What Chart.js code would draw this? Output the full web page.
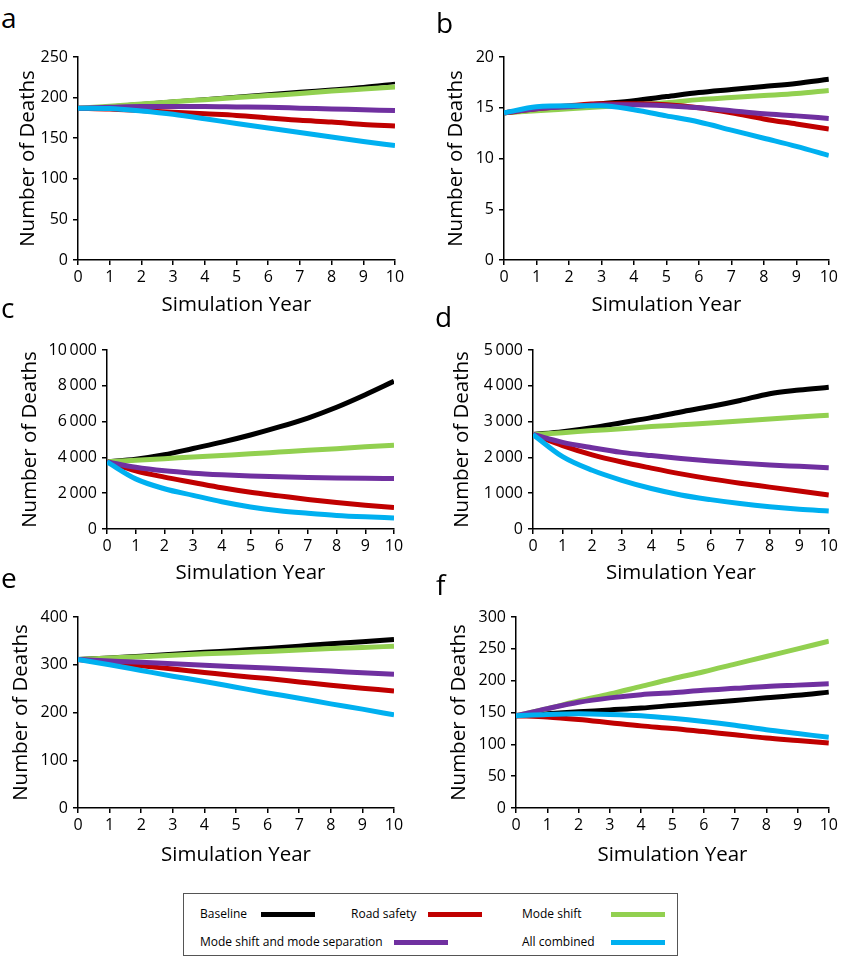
<!DOCTYPE html>
<html><head><meta charset="utf-8">
<script src="https://cdn.jsdelivr.net/npm/chart.js@4/dist/chart.umd.min.js"></script>
<style>
body{margin:0;background:#fff;width:841px;height:958px;position:relative;overflow:hidden;font-family:"Open Sans",sans-serif;color:#000;}
.pan{position:absolute;}
.lbl{position:absolute;font-size:28px;line-height:28px;}
#legend{position:absolute;left:183px;top:893px;width:495px;height:63px;border:1px solid #555;box-sizing:border-box;font-size:12px;}
.li{position:absolute;white-space:nowrap;line-height:16px;}
.sw{position:absolute;height:5px;}
</style></head><body>
<script>
// ---- data ----
const years = [0,1,2,3,4,5,6,7,8,9,10];
const seriesNames = ['Baseline','Road safety','Mode shift','Mode shift and mode separation','All combined'];
const seriesColors = ['#000000','#c00000','#92d050','#7030a0','#00b0f0'];
const panelLetters = ['a','b','c','d','e','f'];
const xTitle = 'Simulation Year';
const yTitle = 'Number of Deaths';

// panel a
const aBaseline   = [187,190,193,196,199,202,205,208,211,214,218];
const aRoadSafety = [187,186,184,182,180,178,175,172,170,167,165];
const aModeShift  = [187,189.5,192,195,197.5,200,202.5,205,208,210.5,213];
const aModeSep    = [187,188,189,189,189,188.5,188,187,186,185,184];
const aAll        = [187,186.5,183.5,179.5,174,168,162.5,157,151.5,146,141];
// panel b
const bBaseline   = [14.5,14.8,15.1,15.4,15.7,16.1,16.5,16.8,17.1,17.4,17.8];
const bRoadSafety = [14.5,14.9,15.2,15.4,15.4,15.3,15.0,14.5,13.9,13.4,12.9];
const bModeShift  = [14.5,14.7,14.9,15.1,15.3,15.5,15.8,16.0,16.2,16.4,16.7];
const bModeSep    = [14.5,14.9,15.1,15.3,15.3,15.2,15.0,14.7,14.4,14.2,13.95];
const bAll        = [14.5,15.1,15.2,15.2,14.8,14.2,13.6,12.8,12.0,11.2,10.3];
// panel c
const cBaseline   = [3750,3900,4150,4500,4850,5250,5700,6200,6800,7500,8250];
const cRoadSafety = [3750,3250,2900,2600,2300,2050,1850,1650,1480,1330,1200];
const cModeShift  = [3750,3840,3930,4020,4110,4200,4300,4400,4490,4590,4680];
const cModeSep    = [3750,3450,3250,3120,3030,2960,2920,2880,2850,2830,2820];
const cAll        = [3750,2800,2250,1880,1520,1230,1020,880,760,680,620];
// panel d
const dBaseline   = [2640,2720,2830,2970,3110,3270,3420,3590,3780,3880,3960];
const dRoadSafety = [2640,2330,2070,1870,1700,1540,1400,1280,1170,1060,950];
const dModeShift  = [2640,2690,2750,2800,2860,2910,2960,3020,3070,3130,3180];
const dModeSep    = [2640,2420,2270,2140,2050,1970,1900,1840,1790,1750,1710];
const dAll        = [2640,2020,1640,1360,1130,950,820,710,620,550,500];
// panel e
const eBaseline   = [311,314,318,322,326,330,334,339,344,348,353];
const eRoadSafety = [311,305,298,291,284,277,271,264,257,251,245];
const eModeShift  = [311,314,317,320,323,325,328,331,334,336,339];
const eModeSep    = [311,308,305,302,299,296,293,290,287,283,280];
const eAll        = [311,300,288,276,265,253,241,230,218,207,195];
// panel f
const fBaseline   = [145,148,151,154,157,161,165,169,173,177,182];
const fRoadSafety = [145,143,139,134,129,125,120,115,110,106,102];
const fModeShift  = [145,156,168,179,191,203,214,226,238,250,262];
const fModeSep    = [145,156,166,173,178,181,185,188,191,193,195];
const fAll        = [145,147,148,147,145,141,136,130,123,117,111];

const yMaxes = [250,20,10000,5000,400,300];
const ySteps = [50,5,2000,1000,100,50];

// ---- layout ----
const FONT = '"Open Sans", sans-serif';
const panels = [
  {series:[aBaseline,aRoadSafety,aModeShift,aModeSep,aAll], L:0,   T:40,  W:420, H:285, area:{left:78, right:395, top:57, bottom:260}, yTitleX:28, xTitleY:305, blackW:2.5},
  {series:[bBaseline,bRoadSafety,bModeShift,bModeSep,bAll], L:420, T:40,  W:421, H:285, area:{left:504,right:829, top:57, bottom:260}, yTitleX:456,xTitleY:305, blackW:5},
  {series:[cBaseline,cRoadSafety,cModeShift,cModeSep,cAll], L:0,   T:330, W:420, H:265, area:{left:107,right:394, top:350,bottom:529}, yTitleX:30, xTitleY:573, blackW:5},
  {series:[dBaseline,dRoadSafety,dModeShift,dModeSep,dAll], L:420, T:330, W:421, H:265, area:{left:533,right:829, top:350,bottom:529}, yTitleX:462,xTitleY:573, blackW:5},
  {series:[eBaseline,eRoadSafety,eModeShift,eModeSep,eAll], L:0,   T:600, W:420, H:275, area:{left:78, right:394, top:617,bottom:808}, yTitleX:21, xTitleY:855, blackW:5},
  {series:[fBaseline,fRoadSafety,fModeShift,fModeSep,fAll], L:420, T:600, W:421, H:275, area:{left:516,right:829, top:617,bottom:808}, yTitleX:459,xTitleY:855, blackW:5}
];
const letterPos = [[1,28],[436,33],[1,318],[435,327],[1,588],[436,595]];
const drawOrder = [5,3,4,2,1]; // higher = further back

function fmt(v){
  const s = String(Math.round(v));
  return s.length > 3 ? s.slice(0,-3) + '\u2009' + s.slice(-3) : s;
}

panels.forEach((p, i) => {
  const TF = 20.5, LH = 24;
  const pl = p.yTitleX - LH/2 - p.L;
  const yW = p.area.left - p.L - pl;
  const pb = p.T + p.H - (p.xTitleY + LH/2);
  const xH = p.T + p.H - pb - p.area.bottom;
  const div = document.createElement('div');
  div.className = 'pan';
  div.style.left = p.L + 'px'; div.style.top = p.T + 'px';
  div.style.width = p.W + 'px'; div.style.height = p.H + 'px';
  const cv = document.createElement('canvas');
  cv.width = p.W; cv.height = p.H;
  cv.style.width = p.W + 'px'; cv.style.height = p.H + 'px';
  div.appendChild(cv);
  document.body.appendChild(div);

  const datasets = p.series.map((vals, k) => ({
    label: seriesNames[k],
    data: years.map((yr, j) => ({x: yr, y: vals[j]})),
    borderColor: seriesColors[k],
    backgroundColor: seriesColors[k],
    borderWidth: k === 0 ? p.blackW : 5,
    pointRadius: 0,
    cubicInterpolationMode: 'monotone',
    fill: false,
    order: drawOrder[k]
  }));

  const axisCommon = {
    grid: {display: true, drawOnChartArea: false, drawTicks: true, tickLength: 5, color: '#000', lineWidth: 1.5},
    border: {display: true, color: '#000', width: 1.5}
  };

  new Chart(cv, {
    type: 'line',
    data: {datasets},
    options: {
      responsive: false,
      animation: false,
      devicePixelRatio: 1,
      layout: {padding: {left: pl, top: p.area.top - p.T, right: p.L + p.W - p.area.right, bottom: pb}},
      plugins: {legend: {display: false}, tooltip: {enabled: false}},
      scales: {
        x: Object.assign({}, axisCommon, {
          type: 'linear', min: 0, max: 10,
          ticks: {stepSize: 1, color: '#000', font: {family: FONT, size: 16}, padding: 3, maxRotation: 0, autoSkip: false},
          title: {display: true, text: xTitle, color: '#000', font: {family: FONT, size: TF}, padding: 0},
          afterFit: s => { s.height = xH; }
        }),
        y: Object.assign({}, axisCommon, {
          type: 'linear', min: 0, max: yMaxes[i],
          ticks: {stepSize: ySteps[i], color: '#000', font: {family: FONT, size: 16}, padding: 5, callback: v => fmt(v)},
          title: {display: true, text: yTitle, color: '#000', font: {family: FONT, size: TF}, padding: 0},
          afterFit: s => { s.width = yW; }
        })
      }
    }
  });

  const lb = document.createElement('div');
  lb.className = 'lbl';
  lb.textContent = panelLetters[i];
  lb.style.left = letterPos[i][0] + 'px';
  lb.style.top = (letterPos[i][1] - 25) + 'px';
  document.body.appendChild(lb);
});

// ---- legend ----
const legendLayout = [
  {tx:16, sx:77,  row:0},
  {tx:167,sx:244, row:0},
  {tx:338,sx:427, row:0},
  {tx:16, sx:210, row:1},
  {tx:338,sx:427, row:1}
];
const rowY = [21, 49];
const lg = document.createElement('div');
lg.id = 'legend';
seriesNames.forEach((name, k) => {
  const lay = legendLayout[k];
  const t = document.createElement('div');
  t.className = 'li';
  t.textContent = name;
  t.style.left = lay.tx + 'px';
  t.style.top = (rowY[lay.row] - 8 - 1) + 'px';
  lg.appendChild(t);
  const s = document.createElement('div');
  s.className = 'sw';
  s.style.left = lay.sx + 'px';
  s.style.width = '54px';
  s.style.top = (rowY[lay.row] - 2.5 - 1) + 'px';
  s.style.background = seriesColors[k];
  lg.appendChild(s);
});
document.body.appendChild(lg);
</script>
</body></html>
